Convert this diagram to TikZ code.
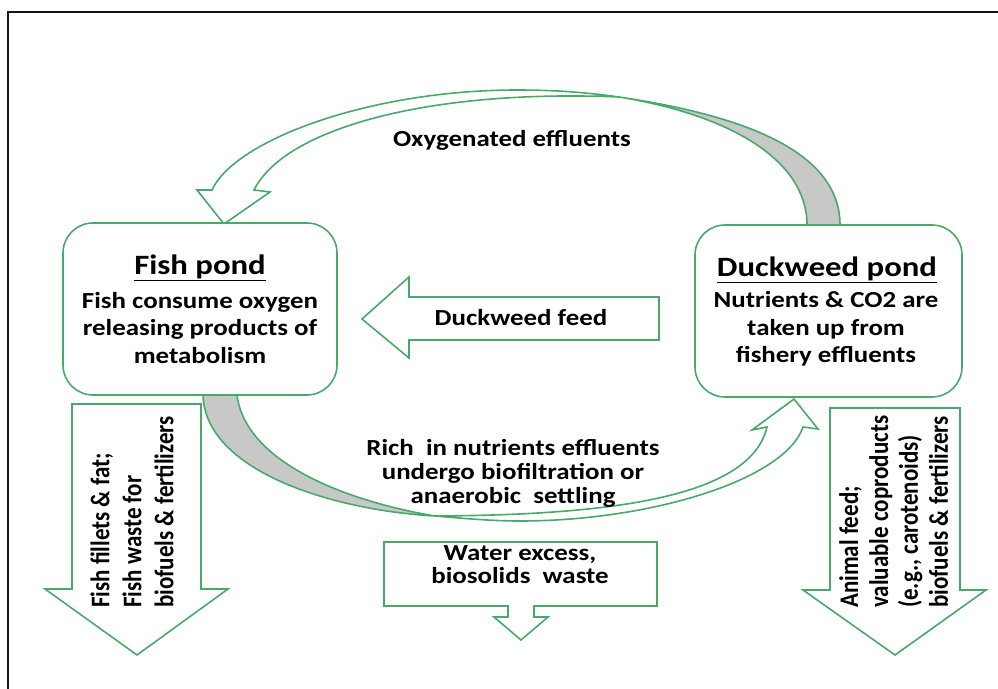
\documentclass[tikz,border=0pt]{standalone}
\usepackage{fontspec}
\usepackage{graphicx}
\setmainfont{Carlito}[FakeStretch=1.17]
\newfontfamily\rotfont{Carlito}
\definecolor{grn}{RGB}{72,170,106}
\definecolor{gry}{RGB}{200,200,200}
\definecolor{frm}{RGB}{20,20,20}
\tikzset{
  shapeline/.style={draw=grn, line width=1.6pt, line join=miter},
  pondbox/.style={shapeline, fill=white, rounded corners=30pt, inner sep=0pt},
  lbl/.style={font=\bfseries\fontsize{23}{27.5}\selectfont, align=center, inner sep=0pt, text=black},
  ttl/.style={font=\bfseries\fontsize{28}{32}\selectfont, inner sep=0pt, text=black},
  rotlbl/.style={anchor=south, inner sep=0pt, text=black}
}
\begin{document}
\begin{tikzpicture}[x=1pt,y=-1pt]
\useasboundingbox (0,0) rectangle (998,688);
% frame
\draw[line width=2.6pt, frm] (8,690) -- (8,12) -- (1000,12);

% top curved arrow: gray underside
\path[shapeline, fill=gry] (619,97) .. controls (740,115) and (840,150) .. (840,225)
  -- (807,225) .. controls (807,160) and (730,115) .. (619,97) -- cycle;
% top curved arrow: white band and head
\path[shapeline, fill=white] (212,190) .. controls (235,140) and (370,90) .. (517,90)
  .. controls (560,90) and (590,93) .. (619,97)
  .. controls (430,89) and (285,128) .. (254,190)
  -- (270,192) -- (224,224) -- (197,190) -- cycle;

% bottom curved arrow: gray underside
\path[shapeline, fill=gry] (203,395) .. controls (205,470) and (330,510) .. (435,516)
  .. controls (340,500) and (245,460) .. (237,395) -- cycle;
% bottom curved arrow: white band and head
\path[shapeline, fill=white] (435,516) .. controls (470,519) and (495,521) .. (520,521)
  .. controls (650,521) and (785,480) .. (803,427)
  -- (818,429) -- (794,399) -- (752,430) -- (767,427)
  .. controls (750,500) and (600,515) .. (435,516) -- cycle;

% duckweed feed arrow
\path[shapeline, fill=white] (659,297) -- (409,297) -- (409,277) -- (362,319)
  -- (409,358) -- (409,340) -- (659,340) -- cycle;

% output arrows
\path[shapeline, fill=white] (72,404) -- (201,404) -- (201,589) -- (228,589)
  -- (137,655) -- (45,589) -- (72,589) -- cycle;
\path[shapeline, fill=white] (830,408) -- (960,408) -- (960,590) -- (986,590)
  -- (895,655) -- (803,590) -- (830,590) -- cycle;

% water excess box arrow
\path[shapeline, fill=white] (384,542) -- (657,542) -- (657,606) -- (534,606)
  -- (534,617) -- (548,617) -- (521,640) -- (494,617) -- (508,617) -- (508,606)
  -- (384,606) -- cycle;

% ponds
\node[pondbox, minimum width=274pt, minimum height=172pt] (fish) at (200,309) {};
\node[pondbox, minimum width=267pt, minimum height=172pt] (duck) at (828.5,311) {};

% texts
\node[ttl] (fishttl) at (200,268) {\underline{Fish pond}};
\node[lbl] (fishtxt) at (200,328) {Fish consume oxygen\\releasing products of\\metabolism};
\node[ttl] (duckttl) at (827,270) {\underline{Duckweed pond}};
\node[lbl] (ducktxt) at (826,329) {Nutrients \& CO2 are\\taken up from\\fishery effluents};
\node[lbl] (oxy) at (512,140) {Oxygenated effluents};
\node[lbl] (feed) at (521,318) {Duckweed feed};
\node[lbl, font=\bfseries\fontsize{23}{24}\selectfont] (rich) at (513,473) {Rich\ \ in nutrients effluents\\undergo biofiltration or\\anaerobic\ \ settling};
\node[lbl, font=\bfseries\fontsize{23}{23}\selectfont] (water) at (520,565) {Water excess,\\biosolids\ \ waste};

\node[rotlbl] (fishout) at (135,608) {\scalebox{1.17}[1]{\rotatebox{90}{\rotfont\bfseries\fontsize{23}{27.4}\selectfont
  \begin{tabular}{@{}l@{}}Fish fillets \& fat;\\ Fish waste for\\ biofuels \& fertilizers\end{tabular}}}};
\node[rotlbl] (duckout) at (897,608) {\scalebox{1.17}[1]{\rotatebox{90}{\rotfont\bfseries\fontsize{23}{25.6}\selectfont
  \begin{tabular}{@{}l@{}}Animal feed;\\ valuable coproducts\\ (e.g., carotenoids)\\ biofuels \& fertilizers\end{tabular}}}};
\end{tikzpicture}
\end{document}
